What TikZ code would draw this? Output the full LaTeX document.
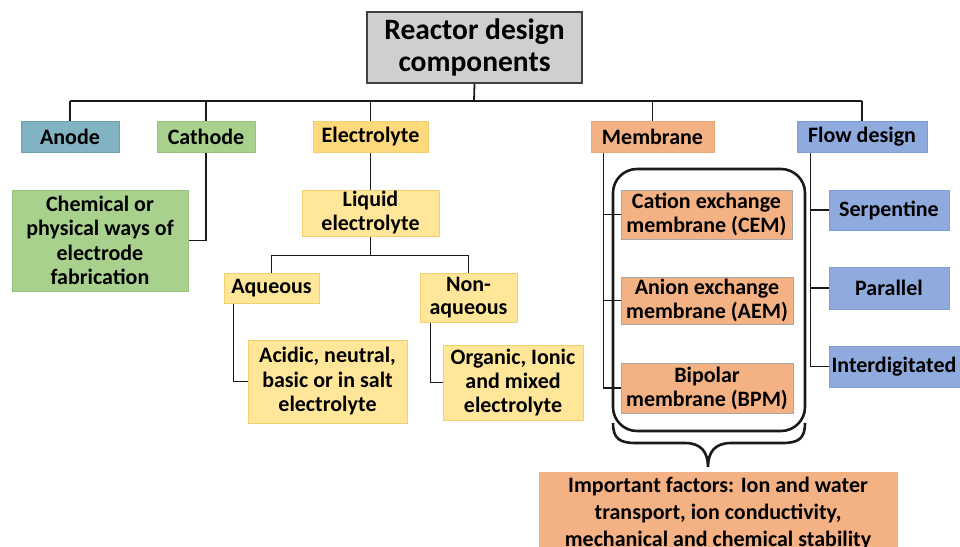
\documentclass[tikz,border=0pt]{standalone}
\usepackage{fontspec}
\setmainfont{Carlito}
\usetikzlibrary{calc}
\definecolor{rootfill}{HTML}{D0CECE}
\definecolor{rootdraw}{HTML}{404040}
\definecolor{anodefill}{HTML}{82B3C2}
\definecolor{anodedraw}{HTML}{6E9FB0}
\definecolor{greenfill}{HTML}{A9D18E}
\definecolor{greendraw}{HTML}{98C37E}
\definecolor{elecfill}{HTML}{FFDA7C}
\definecolor{yelfill}{HTML}{FFE699}
\definecolor{yeldraw}{HTML}{F2D06E}
\definecolor{memfill}{HTML}{F4B183}
\definecolor{memdraw}{HTML}{E8A878}
\definecolor{greydraw}{HTML}{A8A8A8}
\definecolor{flowfill}{HTML}{8FAADC}
\definecolor{flowdraw}{HTML}{7F9DD6}
\definecolor{linec}{HTML}{1A1A1A}
\tikzset{
  box/.style={inner sep=0pt, align=center, font=\fontsize{22}{24.5}\selectfont\bfseries, line width=1pt},
  conn/.style={draw=linec, line width=1.8pt},
}
\newcommand{\bx}[7]{%
  \node[box,#6, minimum width={#4-#2}, minimum height={#5-#3}] (#1) at ({(#2+#4)/2},{(#3+#5)/2}) {#7};}
\begin{document}
\begin{tikzpicture}[x=1pt,y=-1pt]
\useasboundingbox (0,0) rectangle (960,546);
\clip (0,0) rectangle (960,546);
\fill[white] (0,0) rectangle (960,546);
% root
\bx{root}{367}{12}{582}{83}{fill=rootfill,draw=rootdraw,line width=1.5pt,font=\fontsize{29.5}{32}\selectfont\bfseries}{Reactor design\\components}
% level 1
\bx{anode}{21}{121}{119}{152}{fill=anodefill,draw=anodedraw}{Anode}
\bx{cathode}{157}{121}{255}{152}{fill=greenfill,draw=greendraw}{Cathode}
\bx{elec}{313}{121}{428}{152}{fill=elecfill,draw=yeldraw}{Electrolyte}
\bx{mem}{591}{121}{714}{152}{fill=memfill,draw=memdraw}{Membrane}
\bx{flow}{797}{121}{927}{152}{fill=flowfill,draw=flowdraw}{Flow design}
% cathode child
\bx{chem}{12}{190}{188}{291}{fill=greenfill,draw=greendraw}{Chemical or\\physical ways of\\electrode\\fabrication}
% electrolyte children
\bx{liquid}{302}{190}{439}{236}{fill=yelfill,draw=yeldraw,font=\fontsize{22}{24}\selectfont\bfseries}{Liquid\\electrolyte}
\bx{aq}{224}{273}{319}{303}{fill=yelfill,draw=yeldraw}{Aqueous}
\bx{nonaq}{420}{273}{517}{322}{fill=yelfill,draw=yeldraw,font=\fontsize{22}{23}\selectfont\bfseries}{Non-\\aqueous}
\bx{acid}{248}{340}{407}{423}{fill=yelfill,draw=yeldraw}{Acidic, neutral,\\basic or in salt\\electrolyte}
\bx{org}{443}{345}{583}{420}{fill=yelfill,draw=yeldraw,font=\fontsize{22}{24}\selectfont\bfseries}{Organic, Ionic\\and mixed\\electrolyte}
% membrane children
\bx{cem}{621}{190}{792}{239}{fill=memfill,draw=greydraw,font=\fontsize{22}{24}\selectfont\bfseries}{Cation exchange\\membrane (CEM)}
\bx{aem}{621}{277}{793}{324}{fill=memfill,draw=greydraw,font=\fontsize{22}{24}\selectfont\bfseries}{Anion exchange\\membrane (AEM)}
\bx{bpm}{621}{363}{793}{413}{fill=memfill,draw=greydraw,font=\fontsize{22}{24}\selectfont\bfseries}{Bipolar\\membrane (BPM)}
\node[draw=linec, line width=2.6pt, rounded corners=24pt, minimum width=192pt, minimum height=262pt, inner sep=0pt] (group) at (709,300) {};
% brace
\coordinate (bl) at (613,423);
\coordinate (br2) at (805,423);
\coordinate (btip) at (708,467);
\draw[draw=linec, line width=2.6pt]
  (bl) .. controls (613,439) and (620,443) .. (636,443) -- (685,443)
  .. controls (701,443) and (708,452) .. (btip)
  .. controls (708,452) and (715,443) .. (731,443) -- (782,443)
  .. controls (798,443) and (805,439) .. (br2);
\bx{imp}{539}{472}{898}{570}{fill=memfill,draw=none}{}
\node[box,anchor=north, font=\fontsize{22}{27}\selectfont\bfseries] (imptext) at (718,476.5) {Important factors: Ion and water\\transport, ion conductivity,\\mechanical and chemical stability};
% flow children
\bx{serp}{829}{190}{949}{230}{fill=flowfill,draw=flowdraw}{Serpentine}
\bx{par}{829}{267}{949}{309}{fill=flowfill,draw=flowdraw}{Parallel}
\bx{inter}{829}{346}{975}{387}{fill=flowfill,draw=flowdraw}{}
\node[box, anchor=west] (intertext) at (831,366.5) {Interdigitated};
% connectors
\coordinate (bus) at (474,101);
\draw[conn] (root.south) -- (bus);
\draw[conn] (anode.north |- bus) -- (flow.north |- bus);
\foreach \n in {anode,cathode,elec,mem,flow}{\draw[conn] (\n.north) -- (\n.north |- bus);}
\draw[conn] (cathode.south) |- (chem.east);
\draw[conn] (elec.south) -- (liquid.north);
\coordinate (br) at ($(liquid.south)+(0,19)$);
\draw[conn] (liquid.south) -- (br);
\draw[conn] (aq.north) |- (br) -| (nonaq.north);
\draw[conn] ([xshift=10pt]aq.south west) |- (acid.west);
\draw[conn] ([xshift=11pt]nonaq.south west) |- (org.west);
\coordinate (ms) at ([xshift=13pt]mem.south west);
\draw[conn] (ms) |- (bpm.west);
\draw[conn] (cem.west) -- (cem.west -| ms);
\draw[conn] (aem.west) -- (aem.west -| ms);
\coordinate (fs) at ([xshift=14pt]flow.south west);
\draw[conn] (fs) |- (inter.west);
\draw[conn] (serp.west) -- (serp.west -| fs);
\draw[conn] (par.west) -- (par.west -| fs);
\end{tikzpicture}
\end{document}
